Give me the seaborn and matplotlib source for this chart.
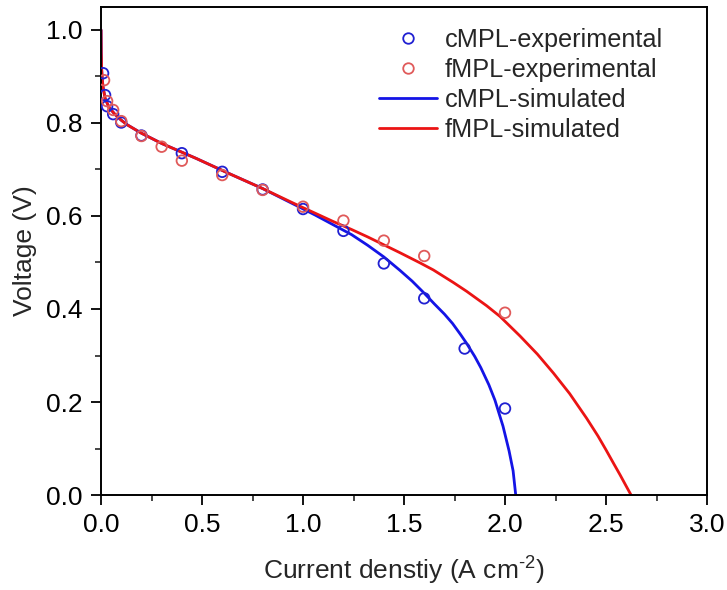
import matplotlib
matplotlib.use("Agg")
import matplotlib.pyplot as plt
import seaborn as sns
import pandas as pd
from matplotlib.lines import Line2D
from matplotlib.ticker import MultipleLocator

# ---- data ----
c_exp_x = [0.01, 0.02, 0.03, 0.06, 0.1, 0.2, 0.4, 0.6, 0.8, 1.0, 1.2, 1.4, 1.6, 1.8, 2.0]
c_exp_y = [0.907, 0.860, 0.836, 0.819, 0.801, 0.773, 0.735, 0.695, 0.657, 0.615,
           0.568, 0.498, 0.423, 0.315, 0.186]

f_exp_x = [0.015, 0.03, 0.06, 0.1, 0.2, 0.3, 0.4, 0.6, 0.8, 1.0, 1.2, 1.4, 1.6, 2.0]
f_exp_y = [0.892, 0.847, 0.828, 0.804, 0.772, 0.749, 0.719, 0.688, 0.656, 0.620,
           0.590, 0.547, 0.514, 0.392]

c_sim_x = [0, 0.001, 0.003, 0.006, 0.01, 0.02, 0.04, 0.07, 0.1, 0.13, 0.2, 0.3, 0.47,
           0.63, 0.8, 0.96, 1.06, 1.15, 1.24, 1.32, 1.40, 1.48, 1.54, 1.60, 1.65, 1.70,
           1.74, 1.78, 1.81, 1.85, 1.88, 1.92, 1.95, 1.99, 2.02, 2.04, 2.053]
c_sim_y = [1.0, 0.95, 0.915, 0.893, 0.877, 0.853, 0.833, 0.818, 0.806, 0.796, 0.778,
           0.756, 0.724, 0.692, 0.659, 0.624, 0.602, 0.581, 0.560, 0.537, 0.512, 0.483,
           0.460, 0.434, 0.411, 0.389, 0.369, 0.345, 0.326, 0.298, 0.274, 0.237, 0.204,
           0.148, 0.095, 0.052, 0.0]

f_sim_x = [0, 0.001, 0.003, 0.006, 0.01, 0.02, 0.04, 0.07, 0.1, 0.13, 0.2, 0.3, 0.47,
           0.63, 0.8, 0.96, 1.06, 1.15, 1.24, 1.32, 1.40, 1.48, 1.58, 1.645, 1.744, 1.81,
           1.909, 1.975, 2.074, 2.16, 2.24, 2.32, 2.404, 2.46, 2.5, 2.54, 2.57, 2.60, 2.624]
f_sim_y = [1.0, 0.95, 0.915, 0.893, 0.877, 0.853, 0.833, 0.818, 0.806, 0.796, 0.778,
           0.756, 0.724, 0.692, 0.659, 0.626, 0.606, 0.588, 0.571, 0.555, 0.538, 0.521,
           0.499, 0.484, 0.457, 0.438, 0.407, 0.384, 0.342, 0.303, 0.262, 0.218, 0.165,
           0.127, 0.097, 0.066, 0.043, 0.019, 0.0]

x_ticks = [0.0, 0.5, 1.0, 1.5, 2.0, 2.5, 3.0]
y_ticks = [0.0, 0.2, 0.4, 0.6, 0.8, 1.0]

labels = ["cMPL-experimental", "fMPL-experimental", "cMPL-simulated", "fMPL-simulated"]

blue_line = "#1414e6"
red_line = "#eb1414"
blue_mk = "#2020d2"
red_mk = "#e05a5a"

sns.set_theme(style="ticks")
plt.rcParams["font.family"] = ["Liberation Sans", "DejaVu Sans"]
plt.rcParams["mathtext.fontset"] = "custom"
plt.rcParams["mathtext.rm"] = "Liberation Sans"
plt.rcParams["mathtext.it"] = "Liberation Sans"

fig = plt.figure(figsize=(7.27, 5.90), dpi=100)
ax = fig.add_axes([0.139, 0.161, 0.8335, 0.8276])

df_c = pd.DataFrame({"x": c_sim_x, "y": c_sim_y})
df_f = pd.DataFrame({"x": f_sim_x, "y": f_sim_y})
sns.lineplot(data=df_c, x="x", y="y", ax=ax, color=blue_line, lw=2.0, sort=False,
             estimator=None)
sns.lineplot(data=df_f, x="x", y="y", ax=ax, color=red_line, lw=2.0, sort=False,
             estimator=None)

df_ce = pd.DataFrame({"x": c_exp_x, "y": c_exp_y})
df_fe = pd.DataFrame({"x": f_exp_x, "y": f_exp_y})
sns.scatterplot(data=df_ce, x="x", y="y", ax=ax, marker="o", s=58,
                facecolors="none", edgecolor=blue_mk, linewidth=1.3, zorder=3)
sns.scatterplot(data=df_fe, x="x", y="y", ax=ax, marker="o", s=58,
                facecolors="none", edgecolor=red_mk, linewidth=1.3, zorder=3)

ax.set_xlim(0, 3.0)
ax.set_ylim(0, 1.05)
ax.set_xticks(x_ticks)
ax.set_yticks(y_ticks)
ax.set_xticklabels([f"{v:.1f}" for v in x_ticks])
ax.set_yticklabels([f"{v:.1f}" for v in y_ticks])
ax.xaxis.set_minor_locator(MultipleLocator(0.25))
ax.yaxis.set_minor_locator(MultipleLocator(0.1))
ax.tick_params(which="major", direction="out", length=7, width=1.3,
               labelsize=19, colors="black", pad=6)
ax.tick_params(which="minor", direction="out", length=4, width=1.2)
ax.tick_params(top=False, right=False, which="both")
for sp in ax.spines.values():
    sp.set_visible(True)
    sp.set_linewidth(1.4)
    sp.set_color("black")

ax.set_xlabel(r"Current denstiy (A cm$^{\text{-}2}$)", fontsize=19, labelpad=13)
ax.set_ylabel("Voltage (V)", fontsize=19, labelpad=7)

handles = [
    Line2D([], [], ls="none", marker="o", markersize=7.6, markerfacecolor="none",
           markeredgecolor=blue_mk, markeredgewidth=1.3),
    Line2D([], [], ls="none", marker="o", markersize=7.6, markerfacecolor="none",
           markeredgecolor=red_mk, markeredgewidth=1.3),
    Line2D([], [], color=blue_line, lw=2.0),
    Line2D([], [], color=red_line, lw=2.0),
]
ax.legend(handles, labels, loc="upper left", bbox_to_anchor=(0.490, 0.991),
          bbox_transform=fig.transFigure, frameon=False,
          fontsize=18.2, handlelength=2.28, handletextpad=0.32, labelspacing=0.24,
          borderpad=0.4)

fig.savefig("out.png", dpi=100)
